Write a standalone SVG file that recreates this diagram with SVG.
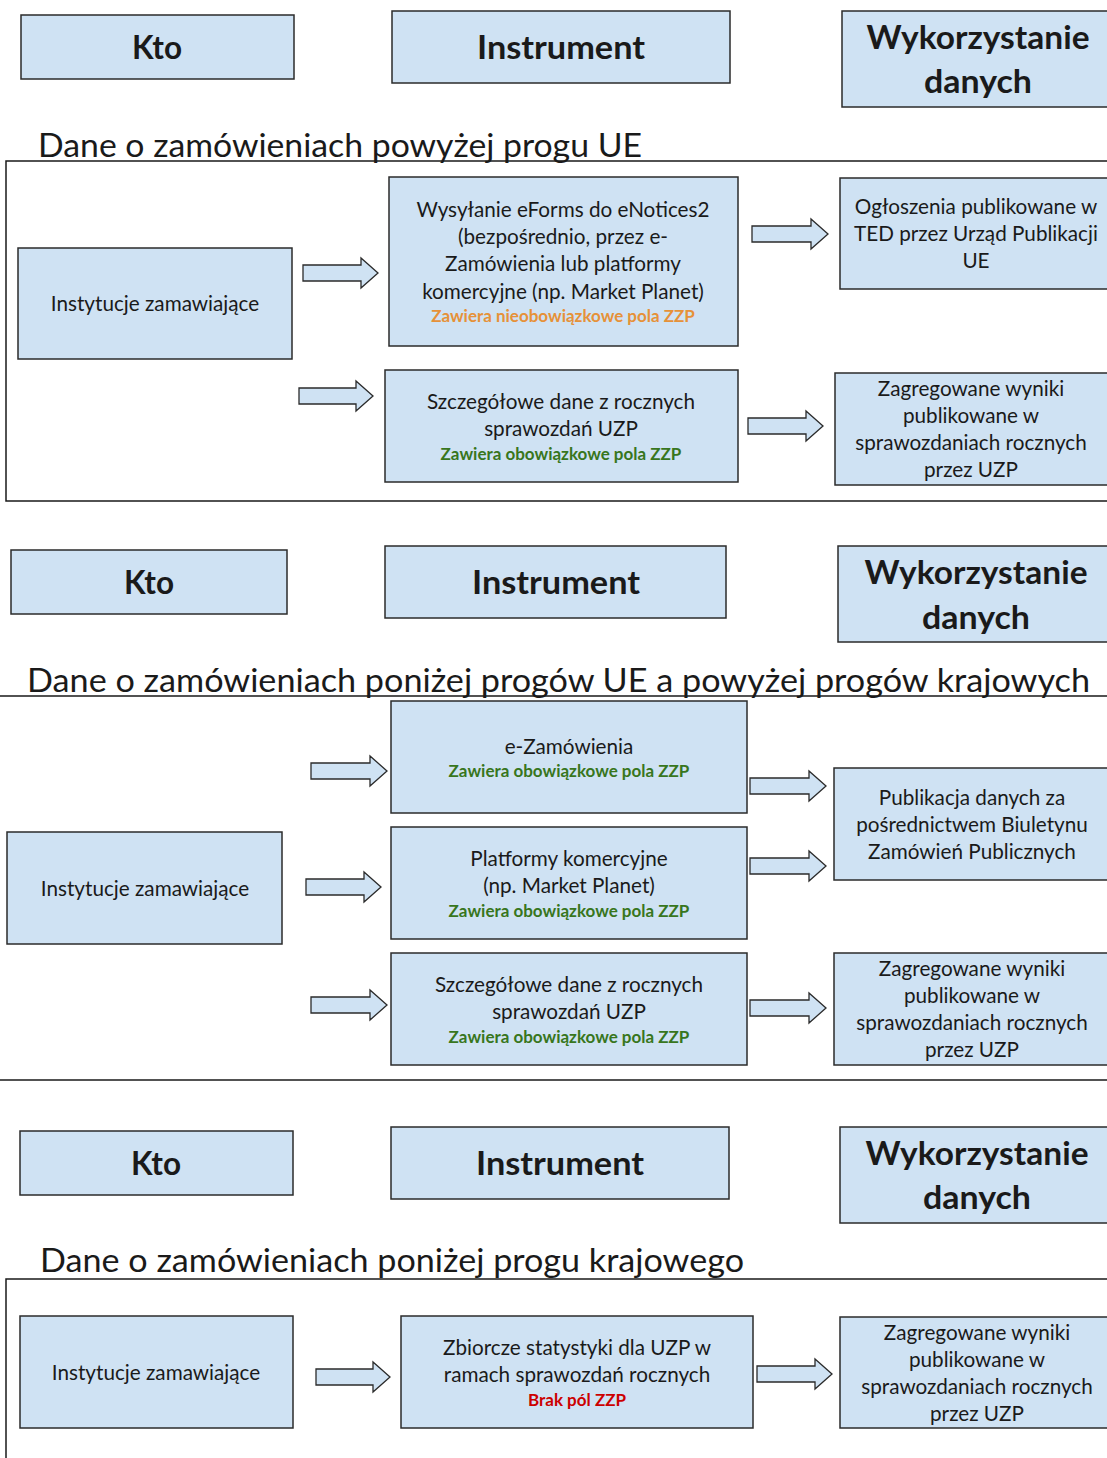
<svg xmlns="http://www.w3.org/2000/svg" width="1107" height="1458" viewBox="0 0 1107 1458">
<style>
.box{fill:#cfe2f3;stroke:#2b2b2b;stroke-width:1.5}
.arr{fill:#cfe2f3;stroke:#2b2b2b;stroke-width:1.3}
.frame{fill:none;stroke:#1a1a1a;stroke-width:1.5}
text{font-family:Lato,"Open Sans","Liberation Sans",sans-serif;fill:#1a1a1a;text-anchor:middle}
.h{font-size:32px;font-weight:bold}
.t{font-size:32px;text-anchor:start}
.b{font-size:20.7px}
.o{font-size:17px;font-weight:bold;fill:#e69138}
.g{font-size:17px;font-weight:bold;fill:#38761d}
.r{font-size:17px;font-weight:bold;fill:#cc0000}
</style>
<g id="frames">
<path class="frame" d="M1107,161 H6 V501 H1107"/>
<path class="frame" d="M0,696 H1107 M0,1080 H1107"/>
<path class="frame" d="M1107,1279 H6 V1458"/>
</g>
<g id="titles">
<text class="t" x="38" y="157" textLength="604" lengthAdjust="spacingAndGlyphs">Dane o zamówieniach powyżej progu UE</text>
<text class="t" x="27" y="692" textLength="1063" lengthAdjust="spacingAndGlyphs">Dane o zamówieniach poniżej progów UE a powyżej progów krajowych</text>
<text class="t" x="40" y="1272" textLength="704" lengthAdjust="spacingAndGlyphs">Dane o zamówieniach poniżej progu krajowego</text>
</g>
<!-- Section 1 headers -->
<g id="kto1"><rect class="box" x="21" y="15" width="273" height="64"/><text class="h" x="157" y="59" textLength="50" lengthAdjust="spacingAndGlyphs">Kto</text></g>
<g id="instrument1"><rect class="box" x="392" y="11" width="338" height="72"/><text class="h" x="561" y="59" textLength="168" lengthAdjust="spacingAndGlyphs">Instrument</text></g>
<g id="wyk1"><rect class="box" x="842" y="11" width="270" height="96"/><text class="h" x="978" y="49" textLength="223" lengthAdjust="spacingAndGlyphs">Wykorzystanie</text><text class="h" x="978" y="93" textLength="108" lengthAdjust="spacingAndGlyphs">danych</text></g>
<!-- Section 1 nodes -->
<g id="inst1"><rect class="box" x="18" y="248" width="274" height="111"/><text class="b" x="155" y="311">Instytucje zamawiające</text></g>
<g id="eforms"><rect class="box" x="389" y="177" width="349" height="169"/>
<text class="b" x="563" y="217">Wysyłanie eForms do eNotices2</text>
<text class="b" x="563" y="244">(bezpośrednio, przez e-</text>
<text class="b" x="563" y="271">Zamówienia lub platformy</text>
<text class="b" x="563" y="299">komercyjne (np. Market Planet)</text>
<text class="o" x="563" y="322">Zawiera nieobowiązkowe pola ZZP</text></g>
<g id="ted"><rect class="box" x="840" y="178" width="272" height="111"/>
<text class="b" x="976" y="214">Ogłoszenia publikowane w</text>
<text class="b" x="976" y="241">TED przez Urząd Publikacji</text>
<text class="b" x="976" y="268">UE</text></g>
<g id="szcz1"><rect class="box" x="385" y="370" width="353" height="112"/>
<text class="b" x="561" y="409">Szczegółowe dane z rocznych</text>
<text class="b" x="561" y="436">sprawozdań UZP</text>
<text class="g" x="561" y="460">Zawiera obowiązkowe pola ZZP</text></g>
<g id="zag1"><rect class="box" x="835" y="373" width="277" height="112"/>
<text class="b" x="971" y="396">Zagregowane wyniki</text>
<text class="b" x="971" y="423">publikowane w</text>
<text class="b" x="971" y="450">sprawozdaniach rocznych</text>
<text class="b" x="971" y="477">przez UZP</text></g>
<!-- Section 2 headers -->
<g id="kto2"><rect class="box" x="11" y="550" width="276" height="64"/><text class="h" x="149" y="594" textLength="50" lengthAdjust="spacingAndGlyphs">Kto</text></g>
<g id="instrument2"><rect class="box" x="385" y="546" width="341" height="72"/><text class="h" x="556" y="594" textLength="168" lengthAdjust="spacingAndGlyphs">Instrument</text></g>
<g id="wyk2"><rect class="box" x="838" y="546" width="274" height="96"/><text class="h" x="976" y="584" textLength="223" lengthAdjust="spacingAndGlyphs">Wykorzystanie</text><text class="h" x="976" y="629" textLength="108" lengthAdjust="spacingAndGlyphs">danych</text></g>
<!-- Section 2 nodes -->
<g id="ezam"><rect class="box" x="391" y="701" width="356" height="112"/>
<text class="b" x="569" y="754">e-Zamówienia</text>
<text class="g" x="569" y="777">Zawiera obowiązkowe pola ZZP</text></g>
<g id="inst2"><rect class="box" x="7" y="832" width="275" height="112"/><text class="b" x="145" y="896">Instytucje zamawiające</text></g>
<g id="platf"><rect class="box" x="391" y="827" width="356" height="112"/>
<text class="b" x="569" y="866">Platformy komercyjne</text>
<text class="b" x="569" y="893">(np. Market Planet)</text>
<text class="g" x="569" y="917">Zawiera obowiązkowe pola ZZP</text></g>
<g id="bzp"><rect class="box" x="834" y="768" width="278" height="112"/>
<text class="b" x="972" y="805">Publikacja danych za</text>
<text class="b" x="972" y="832">pośrednictwem Biuletynu</text>
<text class="b" x="972" y="859">Zamówień Publicznych</text></g>
<g id="szcz2"><rect class="box" x="391" y="953" width="356" height="112"/>
<text class="b" x="569" y="992">Szczegółowe dane z rocznych</text>
<text class="b" x="569" y="1019">sprawozdań UZP</text>
<text class="g" x="569" y="1043">Zawiera obowiązkowe pola ZZP</text></g>
<g id="zag2"><rect class="box" x="834" y="953" width="278" height="112"/>
<text class="b" x="972" y="976">Zagregowane wyniki</text>
<text class="b" x="972" y="1003">publikowane w</text>
<text class="b" x="972" y="1030">sprawozdaniach rocznych</text>
<text class="b" x="972" y="1057">przez UZP</text></g>
<!-- Section 3 headers -->
<g id="kto3"><rect class="box" x="20" y="1131" width="273" height="64"/><text class="h" x="156" y="1175" textLength="50" lengthAdjust="spacingAndGlyphs">Kto</text></g>
<g id="instrument3"><rect class="box" x="391" y="1127" width="338" height="72"/><text class="h" x="560" y="1175" textLength="168" lengthAdjust="spacingAndGlyphs">Instrument</text></g>
<g id="wyk3"><rect class="box" x="840" y="1127" width="272" height="96"/><text class="h" x="977" y="1165" textLength="223" lengthAdjust="spacingAndGlyphs">Wykorzystanie</text><text class="h" x="977" y="1209" textLength="108" lengthAdjust="spacingAndGlyphs">danych</text></g>
<!-- Section 3 nodes -->
<g id="inst3"><rect class="box" x="20" y="1316" width="273" height="112"/><text class="b" x="156" y="1380">Instytucje zamawiające</text></g>
<g id="zbior"><rect class="box" x="401" y="1316" width="352" height="112"/>
<text class="b" x="577" y="1355">Zbiorcze statystyki dla UZP w</text>
<text class="b" x="577" y="1382">ramach sprawozdań rocznych</text>
<text class="r" x="577" y="1406">Brak pól ZZP</text></g>
<g id="zag3"><rect class="box" x="840" y="1317" width="272" height="111"/>
<text class="b" x="977" y="1340">Zagregowane wyniki</text>
<text class="b" x="977" y="1367">publikowane w</text>
<text class="b" x="977" y="1394">sprawozdaniach rocznych</text>
<text class="b" x="977" y="1421">przez UZP</text></g>
<!-- connectors -->
<g id="connectors">
<polygon class="arr" points="303,265 361,265 361,258 378,273 361,288 361,281 303,281"/>
<polygon class="arr" points="752,226 811,226 811,219 828,234 811,249 811,242 752,242"/>
<polygon class="arr" points="299,388 356,388 356,381 373,396 356,411 356,404 299,404"/>
<polygon class="arr" points="748,418 806,418 806,411 823,426 806,441 806,434 748,434"/>
<polygon class="arr" points="311,763 370,763 370,756 387,771 370,786 370,779 311,779"/>
<polygon class="arr" points="306,879 364,879 364,872 381,887 364,902 364,895 306,895"/>
<polygon class="arr" points="750,778 809,778 809,771 826,786 809,801 809,794 750,794"/>
<polygon class="arr" points="750,858 809,858 809,851 826,866 809,881 809,874 750,874"/>
<polygon class="arr" points="311,997 370,997 370,990 387,1005 370,1020 370,1013 311,1013"/>
<polygon class="arr" points="750,1000 809,1000 809,993 826,1008 809,1023 809,1016 750,1016"/>
<polygon class="arr" points="316,1369 373,1369 373,1362 390,1377 373,1392 373,1385 316,1385"/>
<polygon class="arr" points="757,1366 815,1366 815,1359 832,1374 815,1389 815,1382 757,1382"/>
</g>
</svg>
